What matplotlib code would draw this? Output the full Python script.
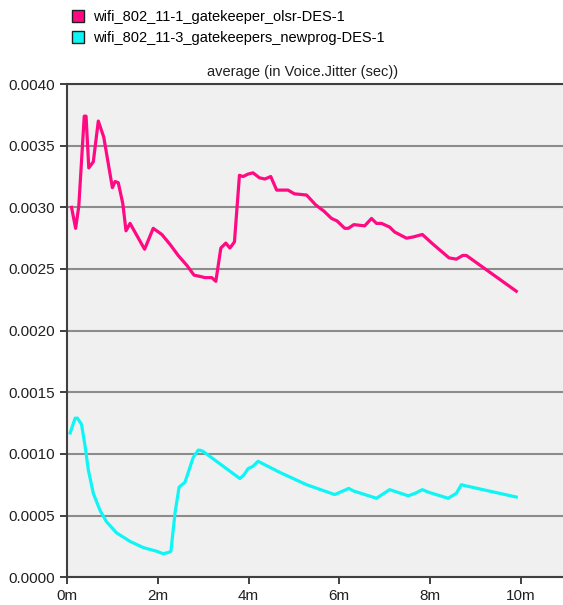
import matplotlib.pyplot as plt
from matplotlib.lines import Line2D

plt.rcParams['font.family'] = ['Liberation Sans', 'DejaVu Sans']

# time in minutes, jitter in seconds
olsr_t = [0.10, 0.19, 0.26, 0.38, 0.42, 0.48, 0.58, 0.69, 0.81, 1.00, 1.06, 1.13,
          1.23, 1.30, 1.39, 1.71, 1.90, 2.09, 2.27, 2.45, 2.64, 2.80, 2.93, 3.04,
          3.19, 3.28, 3.39, 3.50, 3.59, 3.69, 3.80, 3.88, 3.99, 4.10, 4.24, 4.36,
          4.49, 4.62, 4.87, 5.01, 5.28, 5.48, 5.66, 5.83, 5.95, 6.12, 6.20, 6.32,
          6.56, 6.71, 6.82, 6.93, 7.11, 7.22, 7.48, 7.63, 7.83, 8.07, 8.42, 8.58,
          8.72, 8.80, 9.90]
olsr_v = [0.00300, 0.00283, 0.00301, 0.00374, 0.00374, 0.00332, 0.00337, 0.00370,
          0.00357, 0.00316, 0.00321, 0.00320, 0.00303, 0.00281, 0.00287, 0.00266,
          0.00283, 0.00278, 0.00270, 0.00261, 0.00253, 0.00245, 0.00244, 0.00243,
          0.00243, 0.00240, 0.00267, 0.00271, 0.00267, 0.00272, 0.00326, 0.00325,
          0.00327, 0.00328, 0.00324, 0.00323, 0.00325, 0.00314, 0.00314, 0.00311,
          0.00310, 0.00302, 0.00297, 0.00291, 0.00289, 0.00283, 0.00283, 0.00286,
          0.00285, 0.00291, 0.00287, 0.00287, 0.00284, 0.00280, 0.00275, 0.00276,
          0.00278, 0.00270, 0.00259, 0.00258, 0.00261, 0.00261, 0.00232]

newprog_t = [0.07, 0.18, 0.23, 0.32, 0.40, 0.47, 0.58, 0.73, 0.87, 1.09, 1.39, 1.68,
             1.98, 2.12, 2.23, 2.29, 2.38, 2.47, 2.60, 2.78, 2.89, 2.93, 3.00, 3.81,
             3.90, 3.99, 4.10, 4.21, 4.69, 5.28, 5.90, 6.21, 6.31, 6.82, 7.11, 7.52,
             7.67, 7.83, 7.96, 8.40, 8.58, 8.69, 8.80, 9.90]
newprog_v = [0.00117, 0.00129, 0.00129, 0.00124, 0.00106, 0.00087, 0.00068, 0.00054,
             0.00045, 0.00036, 0.00029, 0.00024, 0.00021, 0.00019, 0.00020, 0.00021,
             0.00052, 0.00073, 0.00077, 0.00097, 0.00103, 0.00103, 0.00102, 0.00080,
             0.00083, 0.00088, 0.00090, 0.00094, 0.00085, 0.00075, 0.00067, 0.00072,
             0.00070, 0.00064, 0.00071, 0.00066, 0.00068, 0.00071, 0.00069, 0.00064,
             0.00068, 0.00075, 0.00074, 0.00065]

series_names = ['wifi_802_11-1_gatekeeper_olsr-DES-1',
                'wifi_802_11-3_gatekeepers_newprog-DES-1']
x_ticks = [0, 2, 4, 6, 8, 10]
x_labels = ['0m', '2m', '4m', '6m', '8m', '10m']
y_ticks = [0.0, 0.0005, 0.0010, 0.0015, 0.0020, 0.0025, 0.0030, 0.0035, 0.0040]

pink = '#ff0a82'
cyan = '#0ff5f5'

fig = plt.figure(figsize=(5.63, 6.05), dpi=100, facecolor='white')
ax = fig.add_axes([0.119, 0.046, 0.881, 0.815])
ax.set_facecolor('#f0f0f0')

ax.plot(olsr_t, olsr_v, color=pink, lw=2.3, zorder=3)
ax.plot(newprog_t, newprog_v, color=cyan, lw=2.3, zorder=3)

ax.set_xlim(0, 10.93)
ax.set_ylim(0, 0.0040)
ax.set_xticks(x_ticks)
ax.set_xticklabels(x_labels)
ax.set_yticks(y_ticks)
ax.set_yticklabels(['%.4f' % v for v in y_ticks])
ax.yaxis.grid(True, color='#8c8c8c', lw=1.5)
ax.set_axisbelow(True)

for s in ['left', 'bottom', 'top']:
    ax.spines[s].set_color('#404040')
    ax.spines[s].set_linewidth(1.5)
ax.spines['right'].set_visible(False)
ax.tick_params(direction='out', length=5, width=1.2, color='#202020',
               labelsize=11, labelcolor='#202020')

ax.set_title('average (in Voice.Jitter (sec))', fontsize=10.5, color='#202020',
             pad=6, x=0.475)

handles = [Line2D([], [], ls='none', marker='s', markersize=8, markerfacecolor=c,
                  markeredgecolor='#202020', markeredgewidth=1.0)
           for c in [pink, cyan]]
fig.legend(handles, series_names, loc='upper left', bbox_to_anchor=(0.11, 1.0),
           frameon=False, fontsize=10.5, handlelength=0.8, handletextpad=0.6,
           labelspacing=0.45, borderaxespad=0.3)

plt.savefig('out.png', dpi=100, facecolor='white')
